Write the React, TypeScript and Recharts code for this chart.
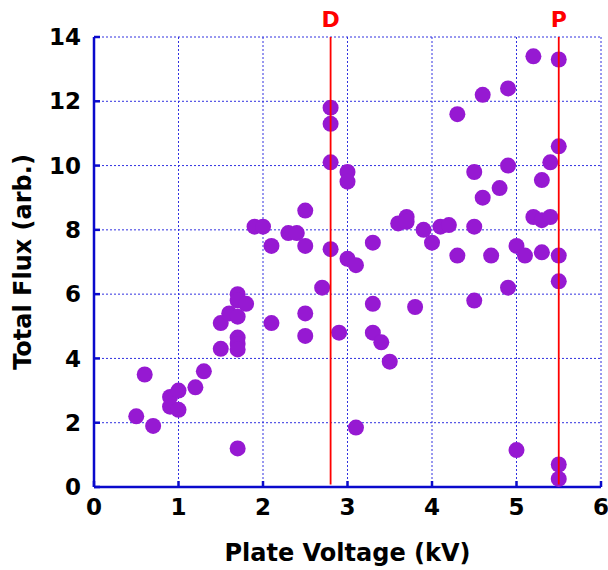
import React from "react";
import { ScatterChart, Scatter, XAxis, YAxis, CartesianGrid, ReferenceLine } from "recharts";

const voltage = [
  0.5, 0.6, 0.7, 0.9, 0.9, 1.0, 1.0, 1.2, 1.3, 1.5, 1.5, 1.6, 1.7, 1.7, 1.7, 1.7, 1.7, 1.7, 1.7, 1.8,
  1.9, 2.0, 2.1, 2.1, 2.3, 2.4, 2.5, 2.5, 2.5, 2.5, 2.7, 2.8, 2.8, 2.8, 2.8, 2.9, 3.0, 3.0, 3.0, 3.1,
  3.1, 3.3, 3.3, 3.3, 3.4, 3.5, 3.6, 3.7, 3.7, 3.8, 3.9, 4.0, 4.1, 4.2, 4.3, 4.3, 4.5, 4.5, 4.5, 4.6,
  4.6, 4.7, 4.8, 4.9, 4.9, 4.9, 5.0, 5.0, 5.1, 5.2, 5.2, 5.3, 5.3, 5.3, 5.4, 5.4, 5.5, 5.5, 5.5, 5.5,
  5.5, 5.5,
];
const flux = [
  2.2, 3.5, 1.9, 2.8, 2.5, 3.0, 2.4, 3.1, 3.6, 5.1, 4.3, 5.4, 6.0, 5.8, 5.3, 4.65, 4.45, 4.28, 1.2, 5.7,
  8.1, 8.1, 7.5, 5.1, 7.9, 7.9, 8.6, 7.5, 5.4, 4.7, 6.2, 11.8, 11.3, 10.1, 7.4, 4.8, 9.8, 9.5, 7.1, 6.9,
  1.85, 7.6, 5.7, 4.8, 4.5, 3.9, 8.2, 8.4, 8.25, 5.6, 8.0, 7.6, 8.1, 8.15, 11.6, 7.2, 9.8, 8.1, 5.8, 12.2,
  9.0, 7.2, 9.3, 12.4, 10.0, 6.2, 7.5, 1.15, 7.2, 13.4, 8.4, 9.55, 8.3, 7.3, 10.1, 8.4, 13.3, 10.6, 7.2, 6.4,
  0.7, 0.25,
];
const xTicks = [0, 1, 2, 3, 4, 5, 6];
const yTicks = [0, 2, 4, 6, 8, 10, 12, 14];
const markers = [
  { x: 2.8, name: "D" },
  { x: 5.5, name: "P" },
];

const data = voltage.map((v, i) => ({ x: v, y: flux[i] }));

const AXIS = "#0a0acc";
const GRID = "#3030e0";
const DOT = "#9619d2";
const font = "'DejaVu Sans', sans-serif";
const tickStyle = { fill: "#000", fontSize: 23, fontWeight: "bold", fontFamily: font };
const titleStyle = { fill: "#000", fontSize: 24, fontWeight: "bold", fontFamily: font };

const Dot = (props: any) => <circle cx={props.cx} cy={props.cy} r={8} fill={DOT} />;

export default function App() {
  return (
    <div style={{ position: "absolute", left: 0, top: 0, background: "#fff" }}>
      <ScatterChart width={608} height={570} margin={{ top: 37, right: 7, left: 14, bottom: 43 }}>
        <CartesianGrid xAxisId="b" yAxisId="l" stroke={GRID} strokeDasharray="2 2" strokeWidth={1} />
        <XAxis
          xAxisId="b"
          type="number"
          dataKey="x"
          domain={[0, 6]}
          ticks={xTicks}
          height={40}
          stroke={AXIS}
          strokeWidth={2.5}
          tickSize={-6}
          tickMargin={18}
          tick={tickStyle}
          label={{ value: "Plate Voltage (kV)", position: "bottom", offset: 17, style: titleStyle }}
        />
        <XAxis xAxisId="t" orientation="top" type="number" domain={[0, 6]} ticks={xTicks} height={0} stroke={AXIS} strokeWidth={2.5} tickSize={-6} tick={false} />
        <YAxis
          yAxisId="l"
          type="number"
          dataKey="y"
          domain={[0, 14]}
          ticks={yTicks}
          width={80}
          stroke={AXIS}
          strokeWidth={2.5}
          tickSize={-6}
          tickMargin={19}
          tick={tickStyle}
          label={{ value: "Total Flux (arb.)", angle: -90, position: "insideLeft", offset: 8, style: { ...titleStyle, textAnchor: "middle" } }}
        />
        <YAxis yAxisId="r" orientation="right" type="number" domain={[0, 14]} ticks={yTicks} width={0} stroke={AXIS} strokeWidth={2.5} tickSize={-6} tick={false} />
        <Scatter xAxisId="b" yAxisId="l" data={data} shape={Dot} isAnimationActive={false} />
        {markers.map((m) => (
          <ReferenceLine
            key={m.name}
            xAxisId="b"
            yAxisId="l"
            segment={[{ x: m.x, y: 0.08 }, { x: m.x, y: 14 }]}
            stroke="#ff0000"
            strokeWidth={1.8}
            zIndex={700}
            label={{ value: m.name, position: "top", offset: 10, fill: "#ff0000", fontSize: 22, fontWeight: "bold", fontFamily: font }}
          />
        ))}
      </ScatterChart>
    </div>
  );
}
